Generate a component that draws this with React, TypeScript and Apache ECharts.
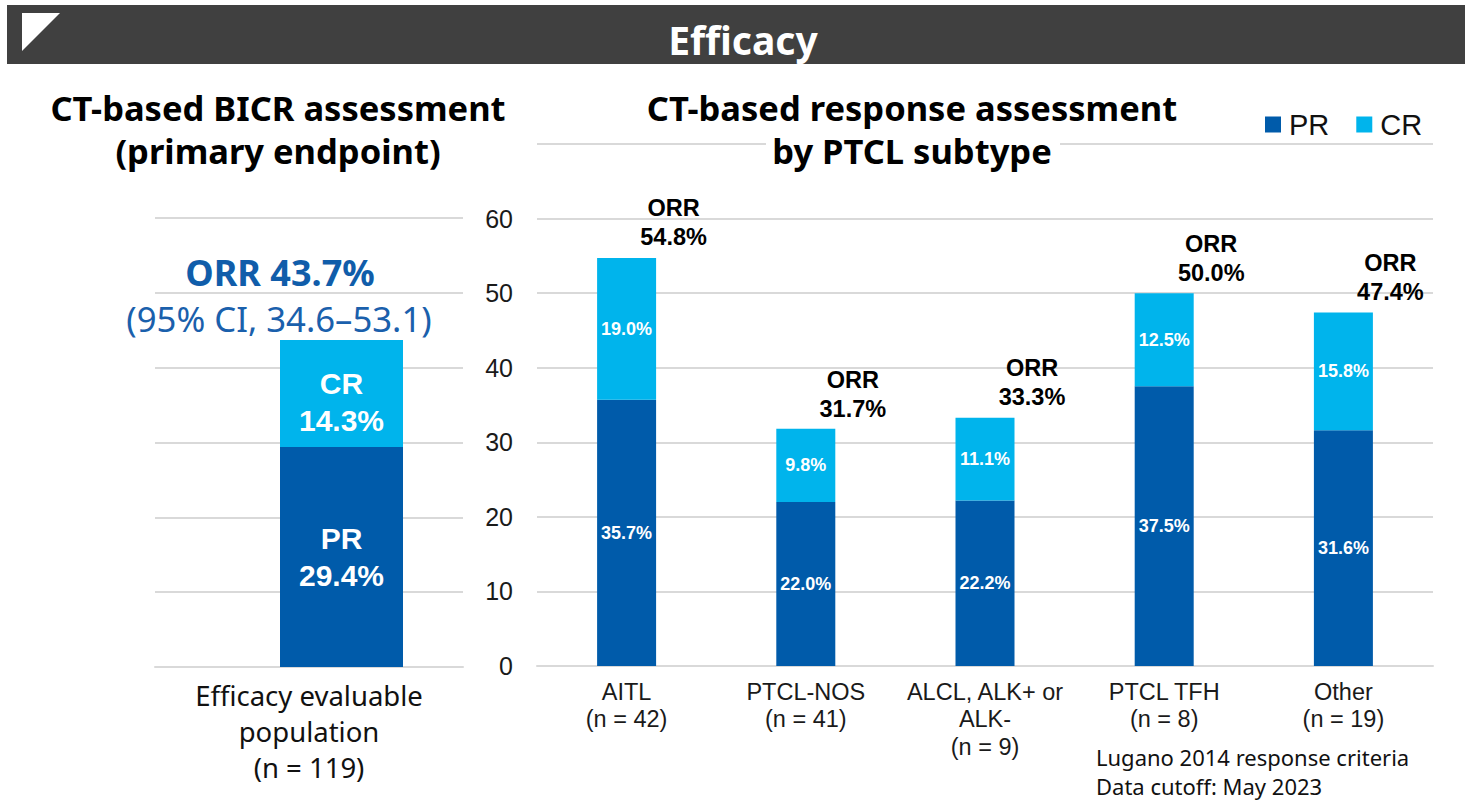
import React, { useEffect, useRef } from 'react';
import * as echarts from 'echarts';

// ---- Data ----
const subtypes = [
  'AITL\n(n = 42)',
  'PTCL-NOS\n(n = 41)',
  'ALCL, ALK+ or\nALK-\n(n = 9)',
  'PTCL TFH\n(n = 8)',
  'Other\n(n = 19)',
];
const prValues = [35.7, 22.0, 22.2, 37.5, 31.6];
const crValues = [19.0, 9.8, 11.1, 12.5, 15.8];
const orrValues = [54.8, 31.7, 33.3, 50.0, 47.4];

const overallCategory = ['Efficacy evaluable\npopulation\n(n = 119)'];
const overallPR = [29.4];
const overallCR = [14.3];
const overallORR = 43.7;
const overallCI = [34.6, 53.1];

const PR_COLOR = '#005BAA';
const CR_COLOR = '#00B4EC';
const GRID_COLOR = '#D9D9D9';
const ARIAL = '"Liberation Sans", Arial, sans-serif';
const SEGOE = '"Noto Sans", "Open Sans", sans-serif';

export default function App() {
  const ref = useRef<HTMLDivElement>(null);

  useEffect(() => {
    document.body.style.margin = '0';
    const chart = echarts.init(ref.current!, null, { renderer: 'svg' });
    const titleStyle = {
      fill: '#000',
      fontFamily: SEGOE,
      fontWeight: 'bold',
      fontSize: 34.5,
      align: 'center',
      verticalAlign: 'middle',
    };
    const option: any = {
      animation: false,
      backgroundColor: '#FFFFFF',
      legend: {
        data: ['PR', 'CR'],
        left: 1265,
        top: 110,
        padding: 0,
        icon: 'rect',
        itemWidth: 16,
        itemHeight: 16,
        itemGap: 27,
        textStyle: { fontSize: 29, fontFamily: ARIAL, color: '#111', padding: [0, 0, 0, 3] },
      },
      grid: [
        { left: 155, width: 308, top: 218, height: 449 },
        { left: 280, width: 123, top: 218, height: 449 },
        { left: 537, width: 896, top: 144, height: 522 },
      ],
      xAxis: [
        {
          type: 'category',
          gridIndex: 0,
          data: overallCategory,
          axisLine: { lineStyle: { color: GRID_COLOR, width: 2 } },
          axisTick: { show: false },
          axisLabel: {
            fontFamily: SEGOE,
            fontSize: 27.5,
            lineHeight: 36,
            color: '#111',
            margin: 10,
          },
        },
        { type: 'category', gridIndex: 1, data: overallCategory, show: false },
        {
          type: 'category',
          gridIndex: 2,
          data: subtypes,
          axisLine: { lineStyle: { color: GRID_COLOR, width: 2 } },
          axisTick: { show: false },
          axisLabel: {
            fontFamily: ARIAL,
            fontSize: 23.5,
            lineHeight: 27.5,
            color: '#1A1A1A',
            margin: 12,
            interval: 0,
          },
        },
      ],
      yAxis: [
        {
          type: 'value',
          gridIndex: 0,
          min: 0,
          max: 60,
          interval: 10,
          axisLine: { show: false },
          axisTick: { show: false },
          axisLabel: { show: false },
          splitLine: { lineStyle: { color: GRID_COLOR, width: 2 } },
        },
        { type: 'value', gridIndex: 1, min: 0, max: 60, show: false, splitLine: { show: false } },
        {
          type: 'value',
          gridIndex: 2,
          min: 0,
          max: 70,
          interval: 10,
          axisLine: { show: false },
          axisTick: { show: false },
          axisLabel: {
            fontFamily: ARIAL,
            fontSize: 25,
            color: '#1A1A1A',
            margin: 24,
            padding: [0, 0, 12, 0],
            formatter: (v: number) => (v > 60 ? '' : String(v)),
          },
          splitLine: { lineStyle: { color: GRID_COLOR, width: 2 } },
        },
      ],
      series: [
        {
          name: 'PR',
          type: 'bar',
          xAxisIndex: 1,
          yAxisIndex: 1,
          stack: 'overall',
          barWidth: '100%',
          data: overallPR,
          itemStyle: { color: PR_COLOR },
          label: {
            show: true,
            position: 'inside',
            formatter: (p: any) => 'PR\n' + p.value.toFixed(1) + '%',
            color: '#fff',
            fontFamily: ARIAL,
            fontWeight: 'bold',
            fontSize: 30,
            lineHeight: 37,
          },
        },
        {
          name: 'CR',
          type: 'bar',
          xAxisIndex: 1,
          yAxisIndex: 1,
          stack: 'overall',
          barWidth: '100%',
          data: overallCR,
          itemStyle: { color: CR_COLOR },
          label: {
            show: true,
            position: 'inside',
            offset: [0, 9],
            formatter: (p: any) => 'CR\n' + p.value.toFixed(1) + '%',
            color: '#fff',
            fontFamily: ARIAL,
            fontWeight: 'bold',
            fontSize: 30,
            lineHeight: 37,
          },
        },
        {
          name: 'PR',
          type: 'bar',
          xAxisIndex: 2,
          yAxisIndex: 2,
          stack: 'subtype',
          barWidth: 59,
          data: prValues,
          itemStyle: { color: PR_COLOR },
          label: {
            show: true,
            position: 'inside',
            formatter: (p: any) => p.value.toFixed(1) + '%',
            color: '#fff',
            fontFamily: ARIAL,
            fontWeight: 'bold',
            fontSize: 18,
          },
        },
        {
          name: 'CR',
          type: 'bar',
          xAxisIndex: 2,
          yAxisIndex: 2,
          stack: 'subtype',
          barWidth: 59,
          data: crValues,
          itemStyle: { color: CR_COLOR },
          label: {
            show: true,
            position: 'inside',
            formatter: (p: any) => p.value.toFixed(1) + '%',
            color: '#fff',
            fontFamily: ARIAL,
            fontWeight: 'bold',
            fontSize: 18,
          },
        },
        {
          name: 'ORR',
          type: 'scatter',
          xAxisIndex: 2,
          yAxisIndex: 2,
          symbolSize: 0,
          silent: true,
          data: orrValues,
          itemStyle: { opacity: 1, color: '#000' },
          label: {
            show: true,
            position: 'top',
            distance: 6,
            offset: [47, 0],
            formatter: (p: any) => 'ORR\n' + p.value.toFixed(1) + '%',
            color: '#000',
            opacity: 1,
            fontFamily: ARIAL,
            fontWeight: 'bold',
            fontSize: 23.5,
            lineHeight: 29,
          },
        },
      ],
      graphic: [
        { type: 'rect', shape: { x: 7, y: 5, width: 1458, height: 59 }, style: { fill: '#404040' } },
        { type: 'polygon', shape: { points: [[22, 13], [60, 13], [22, 51]] }, style: { fill: '#fff' } },
        {
          type: 'text',
          x: 743,
          y: 39,
          style: {
            text: 'Efficacy',
            fill: '#fff',
            fontFamily: SEGOE,
            fontWeight: 'bold',
            fontSize: 39,
            align: 'center',
            verticalAlign: 'middle',
          },
        },
        { type: 'text', x: 278, y: 107, style: { ...titleStyle, text: 'CT-based BICR assessment' } },
        { type: 'text', x: 278, y: 150, style: { ...titleStyle, text: '(primary endpoint)' } },
        { type: 'text', x: 912, y: 107, style: { ...titleStyle, text: 'CT-based response assessment' } },
        {
          type: 'rect',
          z: 100,
          shape: { x: 766, y: 131, width: 294, height: 38 },
          style: { fill: '#fff' },
        },
        { type: 'text', z: 101, x: 912, y: 150, style: { ...titleStyle, text: 'by PTCL subtype' } },
        {
          type: 'text',
          x: 280,
          y: 272,
          style: {
            text: 'ORR ' + overallORR.toFixed(1) + '%',
            fill: '#105DAA',
            fontFamily: SEGOE,
            fontWeight: 'bold',
            fontSize: 36,
            align: 'center',
            verticalAlign: 'middle',
          },
        },
        {
          type: 'text',
          x: 279,
          y: 318,
          style: {
            text: '(95% CI, ' + overallCI[0].toFixed(1) + '–' + overallCI[1].toFixed(1) + ')',
            fill: '#1A60AC',
            fontFamily: SEGOE,
            fontSize: 34.7,
            align: 'center',
            verticalAlign: 'middle',
          },
        },
        {
          type: 'text',
          x: 1096,
          y: 771,
          style: {
            text: 'Lugano 2014 response criteria\nData cutoff: May 2023',
            fill: '#111',
            fontFamily: SEGOE,
            fontSize: 22,
            lineHeight: 29,
            align: 'left',
            verticalAlign: 'middle',
          },
        },
      ],
    };
    chart.setOption(option);
    return () => chart.dispose();
  }, []);

  return <div ref={ref} style={{ width: 1465, height: 800, position: 'absolute', left: 0, top: 0 }} />;
}
